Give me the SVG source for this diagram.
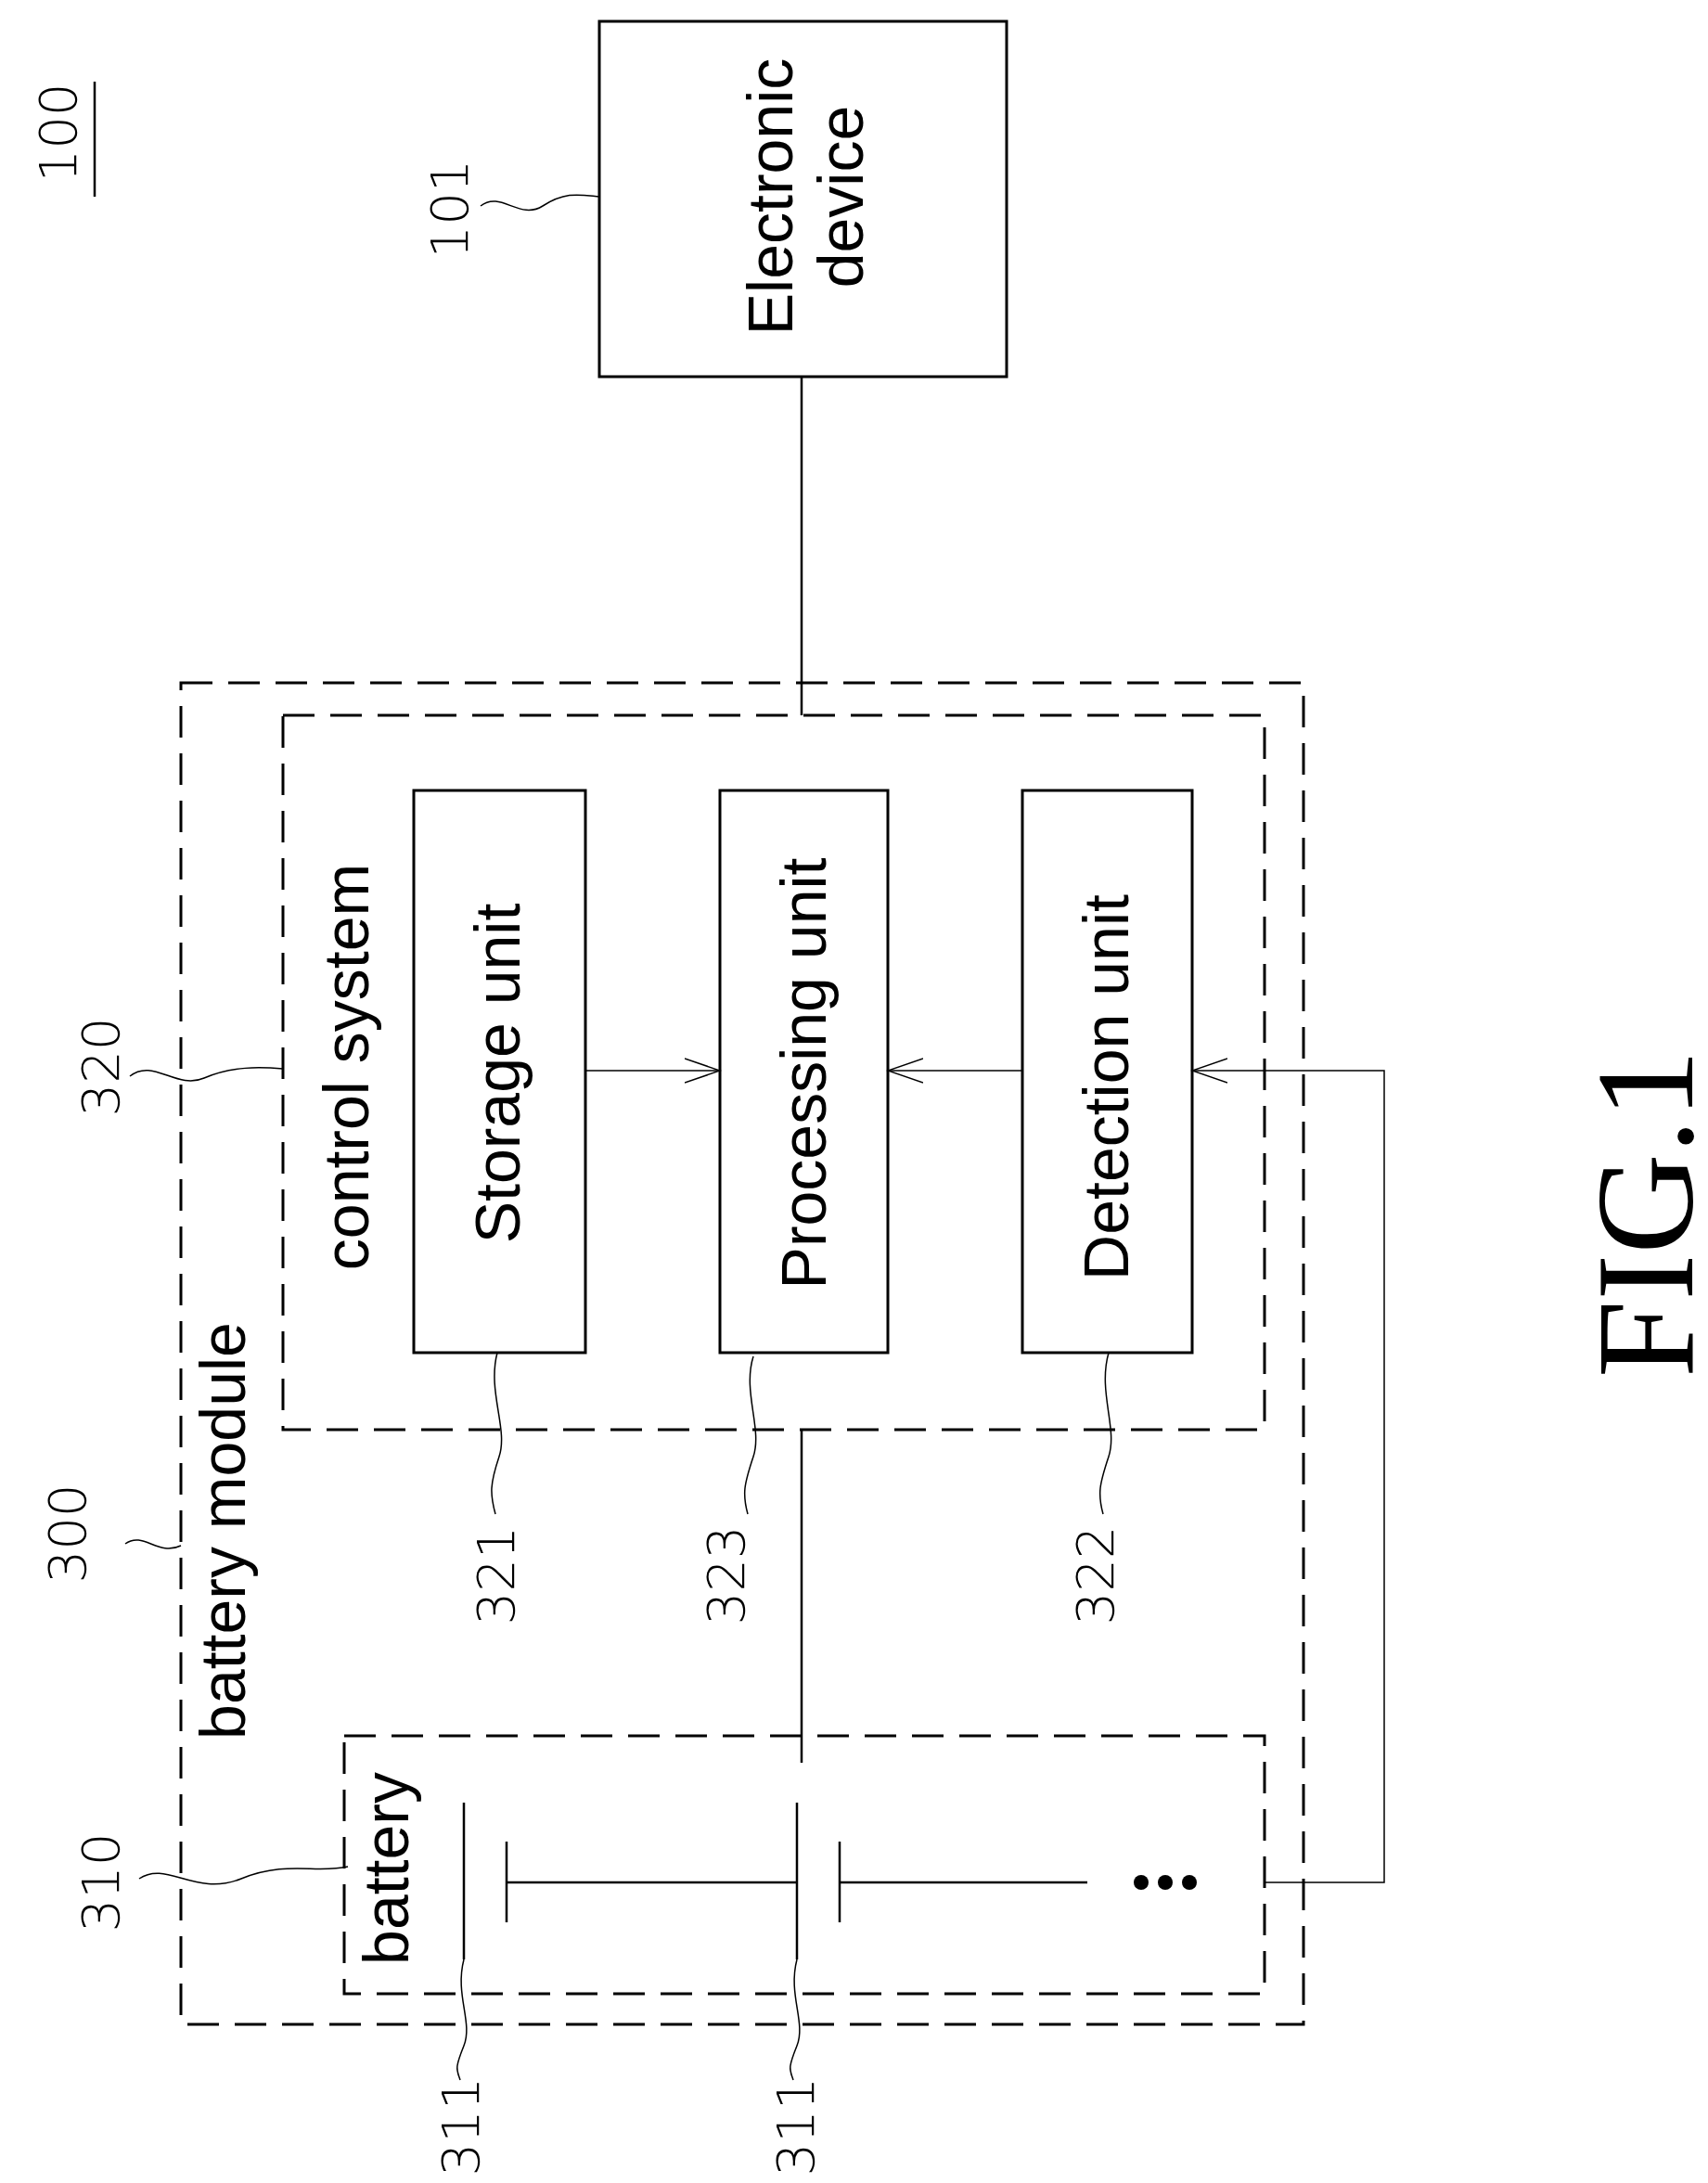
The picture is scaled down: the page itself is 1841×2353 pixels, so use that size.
<svg xmlns="http://www.w3.org/2000/svg" width="1841" height="2353" viewBox="0 0 1841 2353">
<style>
.box{fill:none;stroke:#000;stroke-width:3}
.dash{fill:none;stroke:#000;stroke-width:3;stroke-dasharray:34 17}
.ln{fill:none;stroke:#000;stroke-width:2.5}
.thin{fill:none;stroke:#000;stroke-width:1.5}
.t{font-family:"Liberation Sans",Arial,sans-serif;font-size:68px;text-anchor:middle;dominant-baseline:central}
.n{font-family:"DejaVu Sans",sans-serif;font-weight:300;font-size:56px;text-anchor:middle;dominant-baseline:central}
</style>
<defs>
<marker id="ar" markerWidth="40" markerHeight="30" refX="38" refY="15" orient="auto" markerUnits="userSpaceOnUse">
<polyline points="0,2 38,15 0,28" fill="none" stroke="#000" stroke-width="1.5"/>
</marker>
</defs>
<g id="label100"><text class="n" transform="translate(62,143) rotate(-90)">100</text><line class="ln" x1="102" y1="88" x2="102" y2="212"/></g>
<g id="n101"><rect class="box" x="646" y="23" width="439" height="383"/>
<text class="t" transform="translate(866,212) rotate(-90)"><tspan x="0" dy="-36">Electronic</tspan><tspan x="0" dy="76">device</tspan></text>
<text class="n" transform="translate(484,225) rotate(-90)">101</text></g>
<g id="n300"><rect class="dash" x="195" y="736" width="1210" height="1446"/>
<text class="t" transform="translate(240,1650) rotate(-90)">battery module</text>
<text class="n" transform="translate(72,1653) rotate(-90)">300</text></g>
<g id="n320"><rect class="dash" x="305" y="771" width="1058" height="770"/>
<text class="t" transform="translate(373,1150) rotate(-90)">control system</text>
<text class="n" transform="translate(108,1150) rotate(-90)">320</text></g>
<g id="n321"><rect class="box" x="446" y="852" width="185" height="606"/>
<text class="t" transform="translate(536,1157) rotate(-90)">Storage unit</text>
<text class="n" transform="translate(534,1698) rotate(-90)">321</text></g>
<g id="n323"><rect class="box" x="776" y="852" width="181" height="606"/>
<text class="t" transform="translate(866,1157) rotate(-90)">Processing unit</text>
<text class="n" transform="translate(782,1698) rotate(-90)">323</text></g>
<g id="n322"><rect class="box" x="1102" y="852" width="183" height="606"/>
<text class="t" transform="translate(1192,1172) rotate(-90)">Detection unit</text>
<text class="n" transform="translate(1180,1698) rotate(-90)">322</text></g>
<g id="n310"><rect class="dash" x="371" y="1871" width="992" height="278"/>
<text class="t" transform="translate(416,2014) rotate(-90)">battery</text>
<text class="n" transform="translate(108,2029) rotate(-90)">310</text>
<line class="ln" x1="500" y1="1943" x2="500" y2="2112"/><line class="ln" x1="546" y1="1985" x2="546" y2="2072"/>
<line class="ln" x1="546" y1="2029" x2="859" y2="2029"/>
<line class="ln" x1="859" y1="1943" x2="859" y2="2112"/><line class="ln" x1="905" y1="1985" x2="905" y2="2072"/>
<line class="ln" x1="905" y1="2029" x2="1172" y2="2029"/>
<circle cx="1230" cy="2029" r="8"/><circle cx="1256" cy="2029" r="8"/><circle cx="1282" cy="2029" r="8"/>
<text class="n" transform="translate(496,2292) rotate(-90)">311</text>
<text class="n" transform="translate(857,2292) rotate(-90)">311</text></g>
<g id="connectors">
<line class="ln" x1="864" y1="406" x2="864" y2="771"/>
<line class="ln" x1="864" y1="1541" x2="864" y2="1900"/>
<line class="thin" x1="631" y1="1154" x2="776" y2="1154" marker-end="url(#ar)"/>
<line class="thin" x1="1102" y1="1154" x2="957" y2="1154" marker-end="url(#ar)"/>
<polyline class="thin" points="1363,2029 1492,2029 1492,1154 1285,1154" marker-end="url(#ar)"/>
<path class="thin" d="M518,222 C540,205 560,238 585,222 S625,210 646,212"/>
<path class="thin" d="M140,1160 C165,1140 190,1175 220,1162 S280,1150 305,1152"/>
<path class="thin" d="M135,1664 C155,1650 170,1678 195,1666"/>
<path class="thin" d="M150,2025 C180,2005 210,2045 260,2025 S340,2020 375,2012"/>
<path class="thin" d="M536,1458 C525,1500 548,1540 538,1570 S528,1610 534,1632"/>
<path class="thin" d="M812,1462 C800,1500 822,1540 812,1570 S800,1610 806,1632"/>
<path class="thin" d="M1195,1458 C1183,1500 1205,1540 1195,1570 S1183,1610 1189,1632"/>
<path class="thin" d="M500,2112 C490,2150 510,2180 500,2205 S492,2230 496,2242"/>
<path class="thin" d="M859,2112 C849,2150 869,2180 859,2205 S851,2230 855,2242"/>
</g>
<g id="caption"><text transform="translate(1773,1308) rotate(-90)" font-family="Liberation Serif,serif" font-size="150" text-anchor="middle" dominant-baseline="central">FIG.1</text></g>
</svg>
